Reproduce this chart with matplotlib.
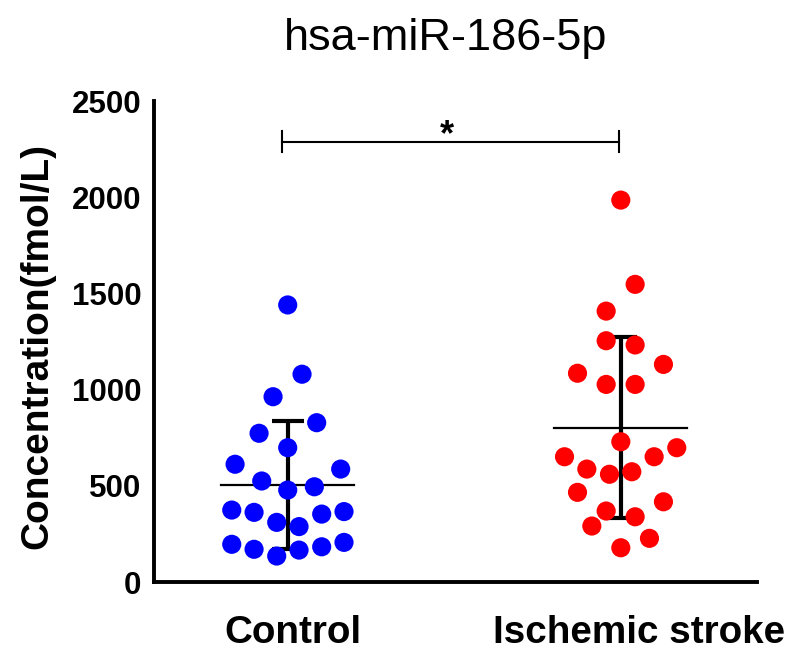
import numpy as np
import matplotlib.pyplot as plt
import matplotlib.transforms as mtransforms

plt.rcParams['font.family'] = ['Liberation Sans', 'DejaVu Sans']

# groups and measured concentrations (fmol/L)
groups = ["Control", "Ischemic stroke"]
control = [1440, 1080, 963, 828, 773, 698, 612, 587, 525, 478, 495, 374,
           362, 310, 288, 353, 366, 196, 170, 135, 166, 183, 206]
stroke = [1985, 1547, 1408, 1254, 1232, 1131, 1085, 1027, 1027, 729, 698,
          651, 651, 587, 560, 573, 466, 417, 369, 339, 291, 227, 178]

# horizontal scatter of the dots
control_jit = [0.0, 0.043, -0.044, 0.087, -0.086, 0.0, -0.158, 0.159, -0.078,
               0.0, 0.080, -0.168, -0.101, -0.033, 0.034, 0.102, 0.169,
               -0.168, -0.101, -0.033, 0.034, 0.102, 0.169]
stroke_jit = [0.0, 0.043, -0.044, -0.044, 0.043, 0.128, -0.130, -0.044, 0.043,
              0.0, 0.168, -0.169, 0.100, -0.102, -0.034, 0.033, -0.130, 0.128,
              -0.044, 0.043, -0.087, 0.086, 0.0]

colors = ["#0000ff", "#ff0000"]

fig = plt.figure(figsize=(7.88, 6.61), dpi=100)
ax = fig.add_axes([0.1954, 0.1195, 0.7649, 0.7277])

for i, (vals, jit) in enumerate([(control, control_jit), (stroke, stroke_jit)]):
    vals = np.array(vals, dtype=float)
    m = vals.mean()
    sd = vals.std(ddof=1)
    ax.plot([i - 0.2, i + 0.2], [m, m], color="black", lw=1.6, zorder=2)
    ax.errorbar(i, m, yerr=sd, fmt="none", ecolor="black", elinewidth=3,
                capsize=11.5, capthick=3, zorder=2)
    ax.scatter(i + np.array(jit), vals, s=190, color=colors[i],
               edgecolors="none", zorder=3)

# significance bar
ybar = 2288
ax.plot([-0.018, 0.996], [ybar, ybar], color="black", lw=1.5)
ax.plot([-0.018, -0.018], [ybar - 54, ybar + 54], color="black", lw=1.5)
ax.plot([0.996, 0.996], [ybar - 54, ybar + 54], color="black", lw=1.5)
ax.text(0.477, 2268, "*", ha="center", va="baseline", fontsize=26,
        fontweight="bold")

ax.set_xlim(-0.4015, 1.408)
ax.set_ylim(0, 2500)
ax.set_xticks([0, 1])
ax.set_xticklabels(groups, fontsize=27.8, fontweight="bold")
ax.set_yticks([0, 500, 1000, 1500, 2000, 2500])
ax.tick_params(axis="y", length=0, pad=9, labelsize=22.5)
ax.tick_params(axis="x", length=0, pad=24)
for lab in ax.get_yticklabels():
    lab.set_fontweight("bold")
# labels sit a little right of the columns in the original
for lab, dx in zip(ax.get_xticklabels(), [5, 18]):
    lab.set_transform(lab.get_transform() +
                      mtransforms.ScaledTranslation(dx / 100, 0, fig.dpi_scale_trans))

ax.spines["top"].set_visible(False)
ax.spines["right"].set_visible(False)
ax.spines["left"].set_linewidth(2.8)
ax.spines["bottom"].set_linewidth(2.8)

ax.set_ylabel("Concentration(fmol/L)", fontsize=28, fontweight="bold")
ax.yaxis.set_label_coords(-0.164, 0.49)

fig.text(0.565, 0.924, "hsa-miR-186-5p", ha="center", va="baseline",
         fontsize=32.5)

fig.savefig("out.png", dpi=100)
